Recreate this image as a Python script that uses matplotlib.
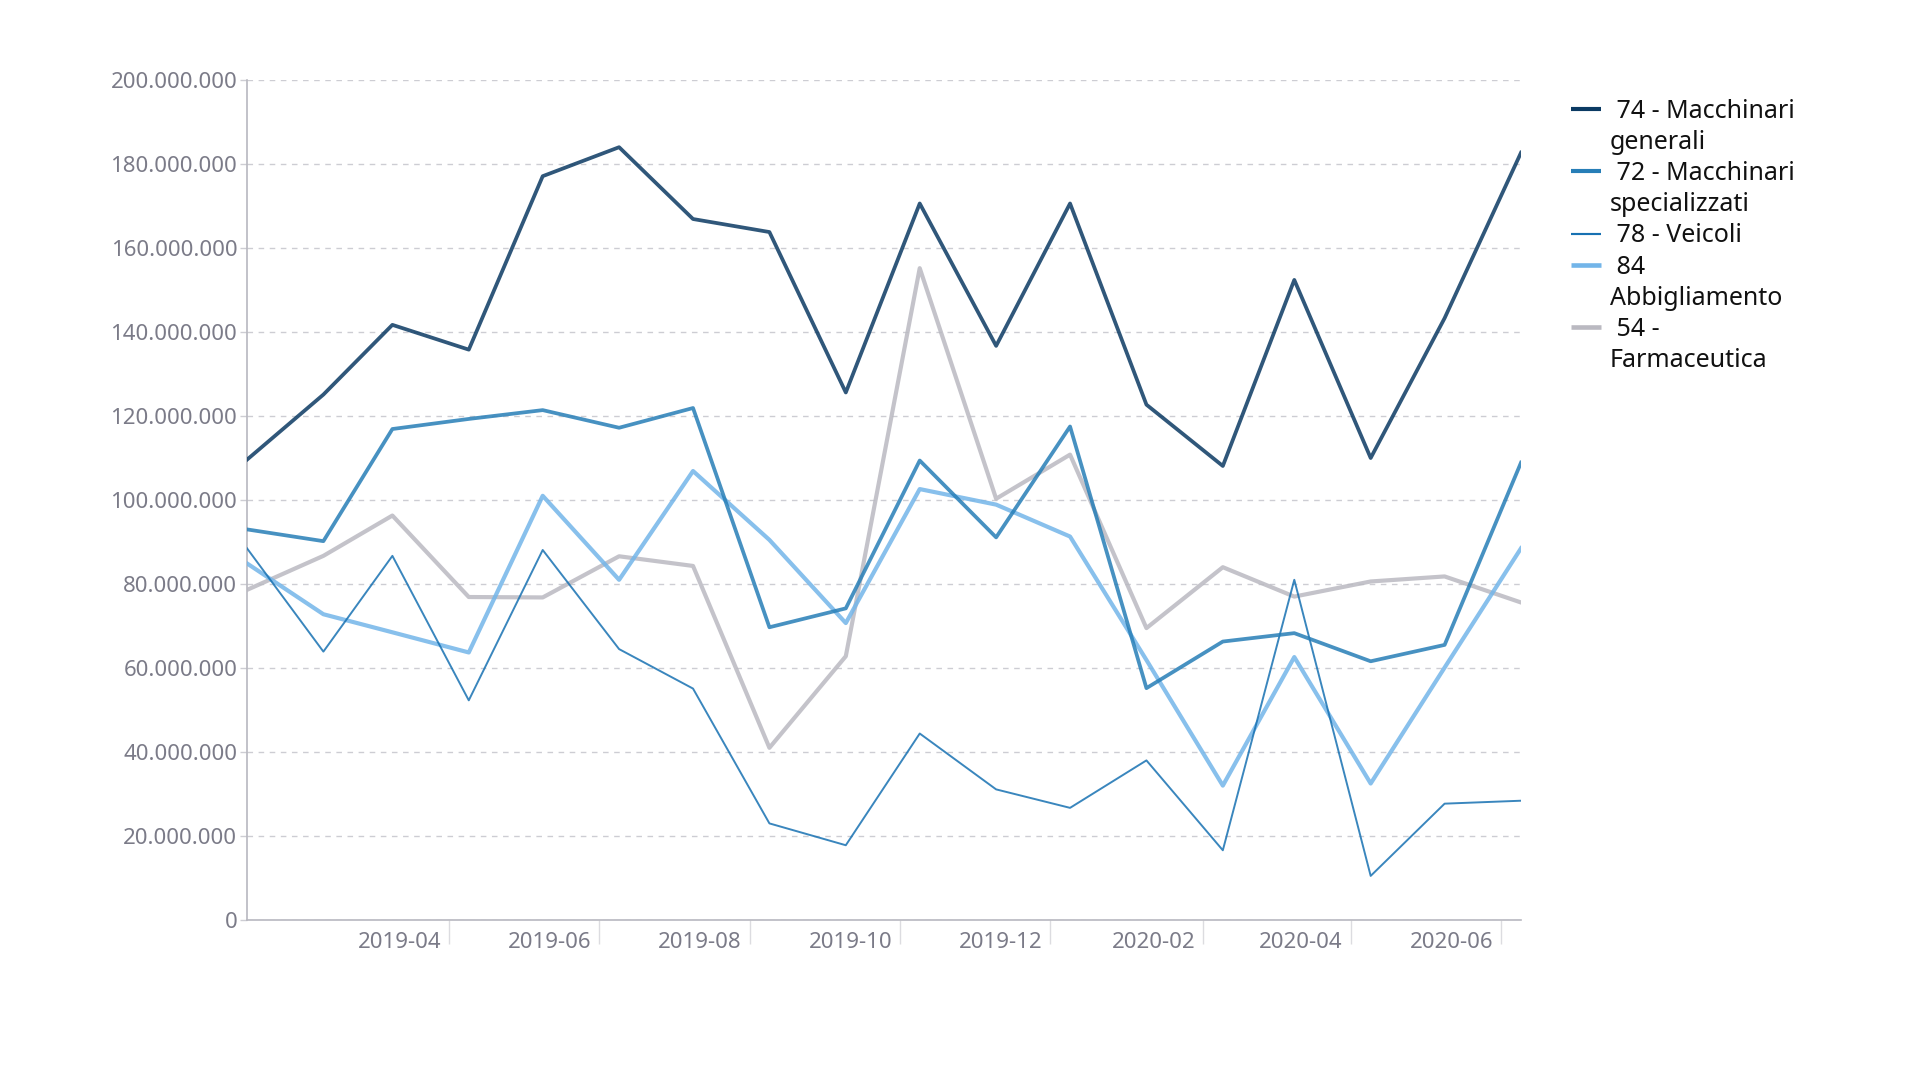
import numpy as np
import pandas as pd
import matplotlib
matplotlib.use("Agg")
import matplotlib.pyplot as plt
import matplotlib.transforms as mtransforms
from matplotlib.lines import Line2D
from matplotlib.ticker import FuncFormatter

plt.rcParams["font.family"] = ["Noto Sans", "DejaVu Sans"]

# mesi (inizio mese) e valori in milioni di euro
mesi = pd.date_range("2019-01-01", periods=18, freq="MS")

macchinari_generali = [109.6, 125.1, 141.7, 135.8, 177.1, 184.0, 166.9, 163.8, 125.6,
                       170.6, 136.7, 170.6, 122.7, 108.1, 152.4, 110.0, 143.3, 182.7]
macchinari_special = [93.0, 90.2, 116.9, 119.3, 121.4, 117.2, 121.9, 69.7, 74.2,
                      109.4, 91.1, 117.5, 55.2, 66.3, 68.3, 61.6, 65.5, 108.9]
veicoli = [88.5, 63.9, 86.7, 52.3, 88.1, 64.5, 55.1, 23.0, 17.8,
           44.4, 31.1, 26.7, 38.0, 16.6, 81.0, 10.5, 27.7, 28.4]
abbigliamento = [84.9, 72.8, 68.5, 63.7, 101.0, 81.0, 106.9, 90.5, 70.7,
                 102.6, 98.9, 91.3, 61.9, 32.0, 62.6, 32.5, 60.1, 88.5]
farmaceutica = [78.6, 86.7, 96.3, 76.9, 76.8, 86.6, 84.3, 41.0, 62.8,
                155.2, 100.3, 110.8, 69.5, 84.0, 77.0, 80.6, 81.8, 75.6]

etichette = [" 74 - Macchinari\ngenerali", " 72 - Macchinari\nspecializzati",
             " 78 - Veicoli", " 84\nAbbigliamento", " 54 -\nFarmaceutica"]
colori = ["#0b3a63", "#277eb7", "#1771b2", "#73b5e9", "#bab9c1"]
spessori = [2.7, 2.7, 1.4, 3.0, 3.0]

tick_mesi = pd.date_range("2019-04-01", periods=8, freq="2MS")
y_ticks = np.arange(0, 200_000_001, 20_000_000)

GRIGIO = "#7b7b88"
W, H = 1920, 1080

fig = plt.figure(figsize=(19.2, 10.8), dpi=100)
ax = fig.add_axes([247 / W, 160 / H, (1521 - 247) / W, 840 / H])

serie = [macchinari_generali, macchinari_special, veicoli, abbigliamento, farmaceutica]
for i in [4, 3, 2, 1, 0]:
    ax.plot(mesi, np.array(serie[i]) * 1e6, color=colori[i], lw=spessori[i],
            alpha=0.85, zorder=3 + (4 - i))

ax.set_xlim(mesi[0], mesi[-1])
ax.set_ylim(0, 200_000_000)
ax.set_yticks(y_ticks)
ax.yaxis.set_major_formatter(FuncFormatter(lambda v, p: f"{int(v):,}".replace(",", ".")))
ax.grid(axis="y", color="#cdcdd3", ls=(0, (4, 4)), lw=1)
ax.set_axisbelow(True)

# tick dell'asse x leggermente anticipati, etichette a sinistra del tick
ax.set_xticks(tick_mesi - pd.Timedelta(days=8))
ax.set_xticklabels([d.strftime("%Y-%m") for d in tick_mesi])
ax.tick_params(axis="x", length=17, width=1, color="#dcdce0", labelsize=16,
               labelcolor=GRIGIO, pad=0)
off = mtransforms.ScaledTranslation(-0.08, 0.12, fig.dpi_scale_trans)
for lab in ax.get_xticklabels():
    lab.set_ha("right")
    lab.set_transform(lab.get_transform() + off)

ax.tick_params(axis="y", length=5, width=1, color="#cdcdd3", labelsize=16,
               labelcolor=GRIGIO, pad=2)

for s in ["top", "right"]:
    ax.spines[s].set_visible(False)
for s in ["left", "bottom"]:
    ax.spines[s].set_color("#b8b8c0")
    ax.spines[s].set_linewidth(1.2)

# legenda a mano: il tratto sta sulla prima riga dell'etichetta
riga0, passo = 109, 31.2
x_h0, x_h1, x_txt = 1571, 1601, 1610
r = 0
for lab, col, lw in zip(etichette, colori, spessori):
    y = H - (riga0 + r * passo)
    fig.add_artist(Line2D([x_h0 / W, x_h1 / W], [y / H, y / H], color=col,
                          lw=lw * 1.1, solid_capstyle="butt"))
    for k, testo in enumerate(lab.split("\n")):
        yk = H - (riga0 + (r + k) * passo) - 8.5
        fig.text(x_txt / W, yk / H, testo, fontsize=18, color="#111111", va="baseline")
    r += len(lab.split("\n"))

fig.savefig("out.png", dpi=100)
